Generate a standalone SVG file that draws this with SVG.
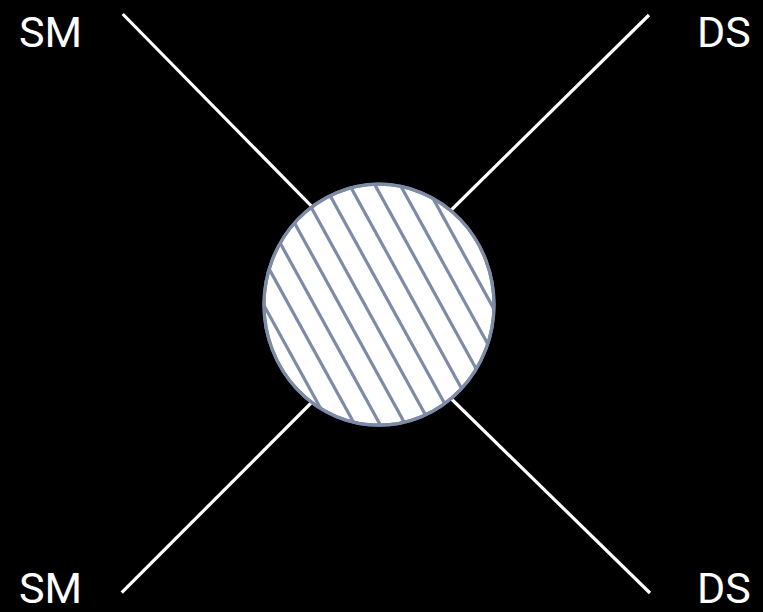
<svg xmlns="http://www.w3.org/2000/svg" width="763" height="612" viewBox="0 0 763 612">
  <style>
    .leg { stroke: #ffffff; stroke-width: 3.2; stroke-linecap: butt; fill: none; }
    .lbl { font-family: Roboto, "Liberation Sans", sans-serif; font-size: 43px; fill: #ffffff; }
    .hatch { stroke: #7d8ba6; stroke-width: 3.2; fill: none; }
    .blob { fill: #ffffff; stroke: #7d8ba6; stroke-width: 3.2; }
  </style>
  <defs>
    <clipPath id="blobClip">
      <ellipse cx="379" cy="304.7" rx="115" ry="120.5"/>
    </clipPath>
  </defs>
  <rect x="0" y="0" width="763" height="612" fill="#000000"/>
  <g id="connectors">
    <line class="leg" x1="122.7" y1="14" x2="330" y2="225"/>
    <line class="leg" x1="649" y1="15" x2="430" y2="231"/>
    <line class="leg" x1="121.7" y1="592.7" x2="330" y2="384"/>
    <line class="leg" x1="650" y1="593" x2="430" y2="378"/>
  </g>
  <g id="blob">
    <ellipse class="blob" cx="379" cy="304.7" rx="115" ry="120.5"/>
    <g clip-path="url(#blobClip)" class="hatch">
      <line x1="222.9" y1="230.9" x2="357.9" y2="476.1"/>
      <line x1="242.3" y1="220.2" x2="377.3" y2="465.4"/>
      <line x1="261.7" y1="209.5" x2="396.7" y2="454.7"/>
      <line x1="281.2" y1="198.8" x2="416.2" y2="444.0"/>
      <line x1="300.6" y1="188.1" x2="435.6" y2="433.3"/>
      <line x1="320.1" y1="177.4" x2="455.1" y2="422.6"/>
      <line x1="339.5" y1="166.7" x2="474.5" y2="411.9"/>
      <line x1="359.0" y1="156.0" x2="494.0" y2="401.2"/>
      <line x1="378.4" y1="145.3" x2="513.4" y2="390.5"/>
      <line x1="397.9" y1="134.6" x2="532.9" y2="379.8"/>
    </g>
    <ellipse cx="379" cy="304.7" rx="115" ry="120.5" fill="none" stroke="#7d8ba6" stroke-width="3.2"/>
  </g>
  <g id="label-sm-top"><text class="lbl" x="19" y="46.5">SM</text></g>
  <g id="label-ds-top"><text class="lbl" x="697" y="46.5">DS</text></g>
  <g id="label-sm-bottom"><text class="lbl" x="19" y="603">SM</text></g>
  <g id="label-ds-bottom"><text class="lbl" x="697" y="603">DS</text></g>
</svg>
